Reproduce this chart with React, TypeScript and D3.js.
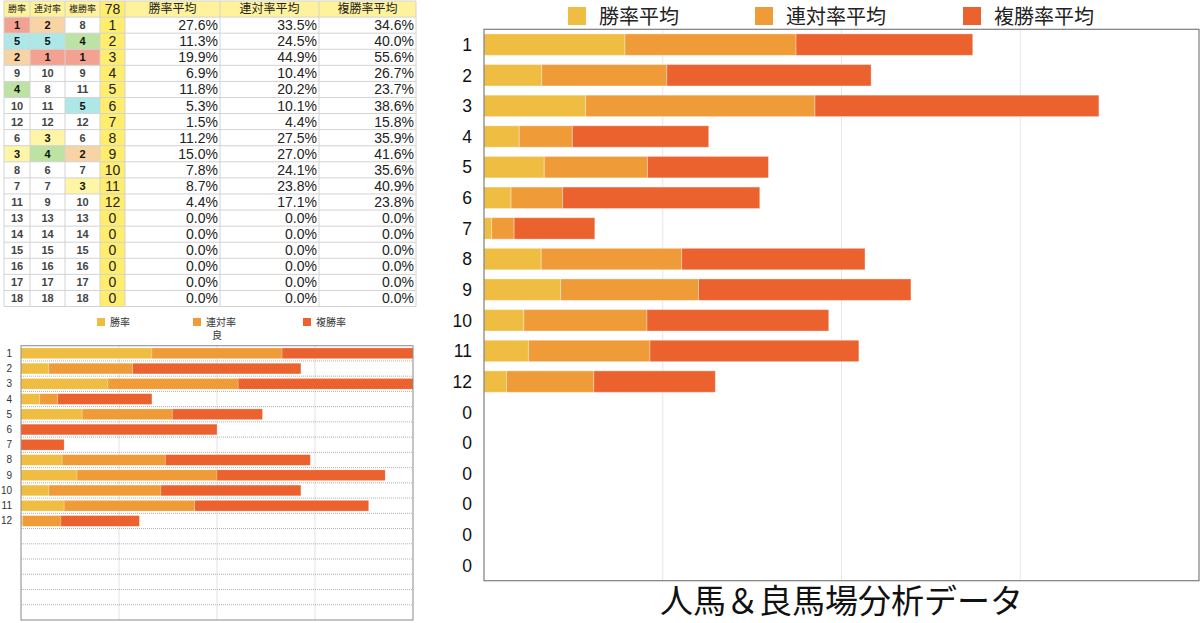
import React from 'react';
import * as d3 from 'd3';

// ---------- data ----------
const popularity = ['1', '2', '3', '4', '5', '6', '7', '8', '9', '10', '11', '12', '0', '0', '0', '0', '0', '0'];
const winAvg = [27.6, 11.3, 19.9, 6.9, 11.8, 5.3, 1.5, 11.2, 15.0, 7.8, 8.7, 4.4, 0, 0, 0, 0, 0, 0];
const placeAvg = [33.5, 24.5, 44.9, 10.4, 20.2, 10.1, 4.4, 27.5, 27.0, 24.1, 23.8, 17.1, 0, 0, 0, 0, 0, 0];
const showAvg = [34.6, 40.0, 55.6, 26.7, 23.7, 38.6, 15.8, 35.9, 41.6, 35.6, 40.9, 23.8, 0, 0, 0, 0, 0, 0];
const seriesNames = ['勝率平均', '連対率平均', '複勝率平均'];
const rankWin = [1, 5, 2, 9, 4, 10, 12, 6, 3, 8, 7, 11, 13, 14, 15, 16, 17, 18];
const rankPlace = [2, 5, 1, 10, 8, 11, 12, 3, 4, 6, 7, 9, 13, 14, 15, 16, 17, 18];
const rankShow = [8, 4, 1, 9, 11, 5, 12, 6, 2, 7, 3, 10, 13, 14, 15, 16, 17, 18];
const tableHeaders = ['勝率', '連対率', '複勝率', '78', '勝率平均', '連対率平均', '複勝率平均'];
const bigTicks = [35, 70, 105];
const bigTitle = '人馬＆良馬場分析データ';

const smallLabels = ['1', '2', '3', '4', '5', '6', '7', '8', '9', '10', '11', '12', '', '', '', '', '', ''];
const smallWin = [33.4, 7.1, 22.2, 4.8, 15.6, 0, 0, 10.5, 14.3, 7.1, 11.0, 0.4, 0, 0, 0, 0, 0, 0];
const smallPlace = [33.2, 21.4, 33.2, 4.6, 23.0, 0, 0, 26.3, 35.7, 28.6, 33.3, 9.8, 0, 0, 0, 0, 0, 0];
const smallShow = [36.0, 42.9, 50.0, 24.0, 23.0, 50.0, 11.0, 37.0, 42.9, 35.7, 44.4, 20.0, 0, 0, 0, 0, 0, 0];
const smallNames = ['勝率', '連対率', '複勝率'];
const smallSubtitle = '良';
const smallTicks = [25, 50, 75];

const COLORS = ['#EFBD42', '#EF9B38', '#EB622E'];
const FONT = "'Noto Sans CJK JP', 'Noto Sans', sans-serif";
const NUMFONT = "'Liberation Sans', Arial, sans-serif";

const rankFill: Record<number, string> = {
  1: '#F3A291',
  2: '#F8D3A3',
  3: '#FFF5A6',
  4: '#BCE2A4',
  5: '#ADE7E8',
};

function stackRows(a: number[], b: number[], c: number[]) {
  const rows = a.map((_, i) => ({ i, s0: a[i], s1: b[i], s2: c[i] }));
  return d3.stack<any>().keys(['s0', 's1', 's2'])(rows);
}

function Table() {
  const colX = [4, 30, 65, 100, 125, 220, 319, 416];
  const top = 1;
  const rh = 16.08;
  const nRows = 19;
  const cells: JSX.Element[] = [];
  for (let c = 0; c < 7; c++) {
    cells.push(
      <rect key={'hb' + c} x={colX[c]} y={top} width={colX[c + 1] - colX[c]} height={rh}
        fill={c === 3 ? '#FFEE6E' : '#FFF29C'} />
    );
  }
  cells.push(<rect key="c4" x={colX[3]} y={top + rh} width={colX[4] - colX[3]} height={rh * 18} fill="#FFEE6E" />);
  const ranks = [rankWin, rankPlace, rankShow];
  for (let r = 0; r < 18; r++) {
    const y = top + rh * (r + 1);
    for (let c = 0; c < 3; c++) {
      const v = ranks[c][r];
      if (rankFill[v]) {
        cells.push(<rect key={`f${r}-${c}`} x={colX[c]} y={y} width={colX[c + 1] - colX[c]} height={rh} fill={rankFill[v]} />);
      }
    }
  }
  for (let r = 0; r <= nRows; r++) {
    cells.push(<line key={'hl' + r} x1={colX[0]} x2={colX[7]} y1={top + rh * r} y2={top + rh * r} stroke="#D3D3D3" strokeWidth={1} />);
  }
  for (let c = 0; c < colX.length; c++) {
    cells.push(<line key={'vl' + c} x1={colX[c]} x2={colX[c]} y1={top} y2={top + rh * nRows} stroke="#D3D3D3" strokeWidth={1} />);
  }
  tableHeaders.forEach((h, c) => {
    const cx = (colX[c] + colX[c + 1]) / 2;
    const fs = c < 3 ? 9 : c === 3 ? 14 : 12;
    cells.push(
      <text key={'ht' + c} x={cx} y={top + rh / 2 + fs * 0.36} textAnchor="middle" fontSize={fs} fill="#222"
        fontFamily={c === 3 ? NUMFONT : FONT}>{h}</text>
    );
  });
  const pct = [winAvg, placeAvg, showAvg];
  for (let r = 0; r < 18; r++) {
    const cy = top + rh * (r + 1) + rh / 2;
    for (let c = 0; c < 3; c++) {
      const v = ranks[c][r];
      const hi = !!rankFill[v];
      cells.push(
        <text key={`t${r}-${c}`} x={(colX[c] + colX[c + 1]) / 2} y={cy + 4} textAnchor="middle" fontSize={11}
          fontWeight={700} fill={hi ? '#111' : '#444'} fontFamily={NUMFONT}>{v}</text>
      );
    }
    cells.push(
      <text key={`p${r}`} x={(colX[3] + colX[4]) / 2} y={cy + 5} textAnchor="middle" fontSize={14} fill="#222" fontFamily={NUMFONT}>{popularity[r]}</text>
    );
    for (let c = 0; c < 3; c++) {
      cells.push(
        <text key={`v${r}-${c}`} x={colX[c + 5] - 2} y={cy + 5} textAnchor="end" fontSize={14} fill="#222" fontFamily={NUMFONT}>{pct[c][r].toFixed(1) + '%'}</text>
      );
    }
  }
  return <g>{cells}</g>;
}

function SmallChart() {
  const left = 21, right = 413, top = 345.7, bottom = 620;
  const x = d3.scaleLinear().domain([0, 100]).range([left, right]);
  const y = d3.scaleBand<number>().domain(d3.range(18)).range([top, bottom]).paddingInner(0.3).paddingOuter(0.15);
  const stacked = stackRows(smallWin, smallPlace, smallShow);
  const step = y.step();
  const legendX = [97, 193, 303];
  return (
    <g fontFamily={FONT}>
      <defs>
        <clipPath id="smallclip"><rect x={left} y={top} width={right - left} height={bottom - top} /></clipPath>
      </defs>
      {smallNames.map((n, i) => (
        <g key={n}>
          <rect x={legendX[i]} y={318} width={8} height={8} fill={COLORS[i]} />
          <text x={legendX[i] + 13} y={325.5} fontSize={10} fill="#333">{n}</text>
        </g>
      ))}
      <text x={217} y={338.5} fontSize={10} textAnchor="middle" fill="#333">{smallSubtitle}</text>
      {smallTicks.map(t => (
        <line key={t} x1={x(t)} x2={x(t)} y1={top} y2={bottom} stroke="#E2E2E2" strokeWidth={1} />
      ))}
      {d3.range(1, 18).map(i => (
        <line key={i} x1={left} x2={right} y1={top + step * i} y2={top + step * i}
          stroke="#9A9A9A" strokeWidth={0.8} strokeDasharray="1,1" />
      ))}
      <g clipPath="url(#smallclip)">
        {stacked.map((s, si) => s.map((d, i) => (
          d[1] - d[0] > 0 ? (
            <rect key={`${si}-${i}`} x={x(d[0])} y={y(i)!} width={x(d[1]) - x(d[0])} height={y.bandwidth()}
              fill={COLORS[si]} stroke="#fff" strokeOpacity={0.35} strokeWidth={0.6} />
          ) : null
        )))}
      </g>
      <rect x={left} y={top} width={right - left} height={bottom - top} fill="none" stroke="#8A8A8A" strokeWidth={1} />
      {smallLabels.map((l, i) => (
        <text key={i} x={12} y={y(i)! + y.bandwidth() / 2 + 3.5} textAnchor="end" fontSize={10} fill="#333" fontFamily={NUMFONT}>{l}</text>
      ))}
    </g>
  );
}

function BigChart() {
  const left = 484, right = 1199, top = 29.3, bottom = 580.7;
  const x = d3.scaleLinear().domain([0, 140]).range([left, right]);
  const y = d3.scaleBand<number>().domain(d3.range(18)).range([top, bottom]).paddingInner(0.3).paddingOuter(0.15);
  const stacked = stackRows(winAvg, placeAvg, showAvg);
  const legendX = [568, 755, 963];
  return (
    <g fontFamily={FONT}>
      {seriesNames.map((n, i) => (
        <g key={n}>
          <rect x={legendX[i]} y={7} width={18} height={18} fill={COLORS[i]} />
          <text x={legendX[i] + 31} y={24} fontSize={20} fill="#222">{n}</text>
        </g>
      ))}
      {bigTicks.map(t => (
        <line key={t} x1={x(t)} x2={x(t)} y1={top} y2={bottom} stroke="#E6E6E6" strokeWidth={1} />
      ))}
      {stacked.map((s, si) => s.map((d, i) => (
        d[1] - d[0] > 0 ? (
          <rect key={`${si}-${i}`} x={x(d[0])} y={y(i)!} width={x(d[1]) - x(d[0])} height={y.bandwidth()}
            fill={COLORS[si]} stroke="#fff" strokeOpacity={0.35} strokeWidth={1} />
        ) : null
      )))}
      <rect x={left} y={top} width={right - left} height={bottom - top} fill="none" stroke="#7E7E7E" strokeWidth={1.2} />
      {popularity.map((l, i) => (
        <text key={i} x={472} y={y(i)! + y.bandwidth() / 2 + 6.3} textAnchor="end" fontSize={17.5} fill="#111" fontFamily={NUMFONT}>{l}</text>
      ))}
      <text x={(left + right) / 2} y={612.5} textAnchor="middle" fontSize={33} fill="#111">{bigTitle}</text>
    </g>
  );
}

export default function App() {
  return (
    <svg width={1200} height={623} viewBox="0 0 1200 623"
      style={{ position: 'absolute', left: 0, top: 0, background: '#fff', display: 'block' }}>
      <rect x={0} y={0} width={1200} height={623} fill="#fff" />
      <Table />
      <SmallChart />
      <BigChart />
    </svg>
  );
}
